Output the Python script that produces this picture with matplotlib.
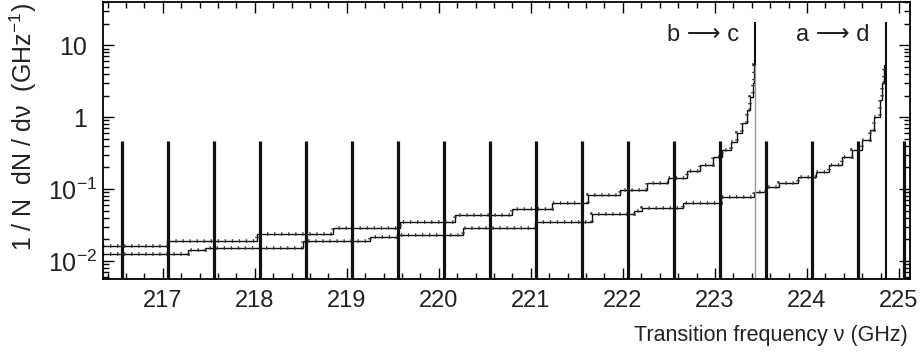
import numpy as np
import matplotlib
matplotlib.use('Agg')
import matplotlib.pyplot as plt
import matplotlib.transforms as mtransforms
from matplotlib.ticker import MultipleLocator, LogLocator, NullFormatter, FixedLocator

# step curve for b -> c (bin edges in GHz, bin contents)
bc_edges = [216.35, 217.05, 218.02, 218.85, 219.58, 220.17, 220.79, 221.23, 221.62,
            221.97, 222.26, 222.49, 222.70, 222.84, 222.98, 223.08, 223.18, 223.24,
            223.29, 223.35, 223.38, 223.41, 223.42, 223.435]
bc_values = [0.0163, 0.0190, 0.0237, 0.0290, 0.0352, 0.0435, 0.0527, 0.0645, 0.0826,
             0.0968, 0.120, 0.144, 0.180, 0.215, 0.281, 0.348, 0.454, 0.600, 0.826,
             1.25, 1.91, 2.96, 5.27]
bc_end = 223.435
bc_peak = 20.8

# step curve for a -> d
ad_edges = [216.35, 217.27, 217.46, 218.52, 219.25, 219.54, 220.26, 221.04, 221.66,
            222.12, 222.21, 222.65, 223.07, 223.42, 223.56, 223.70, 223.90, 224.10,
            224.24, 224.38, 224.49, 224.60, 224.68, 224.73, 224.79, 224.82, 224.84,
            224.855]
ad_values = [0.0125, 0.0142, 0.0150, 0.0192, 0.0212, 0.0230, 0.0290, 0.0352, 0.0443,
             0.0487, 0.0536, 0.0640, 0.0775, 0.0922, 0.108, 0.122, 0.148, 0.174,
             0.215, 0.281, 0.348, 0.480, 0.659, 1.01, 1.72, 2.96, 5.27]
ad_end = 224.855
ad_peak = 20.8

# thick marker lines every 0.5 GHz
marker_freqs = [216.56, 217.06, 217.56, 218.06, 218.56, 219.06, 219.56, 220.06, 220.56,
                221.06, 221.56, 222.06, 222.56, 223.06, 223.56, 224.06, 224.56, 225.06]
marker_top = 0.47

x_ticks = [217, 218, 219, 220, 221, 222, 223, 224, 225]
y_ticks = [0.01, 0.1, 1, 10]
y_ticklabels = ['$10^{-2}$', '$10^{-1}$', '1', '10']

xmin, xmax = 216.35, 225.12
ymin, ymax = 0.0056, 40

plt.rcParams['font.family'] = ['Liberation Sans', 'DejaVu Sans']
plt.rcParams['mathtext.fontset'] = 'custom'
plt.rcParams['mathtext.rm'] = 'Liberation Sans'
plt.rcParams['mathtext.it'] = 'Liberation Sans'
plt.rcParams['mathtext.default'] = 'regular'

fig = plt.figure(figsize=(9.21, 3.61), dpi=100)
ax = fig.add_axes([103 / 921, 1 - 279 / 361, (910 - 103) / 921, (279 - 2) / 361])
ax.set_yscale('log')
ax.set_xlim(xmin, xmax)
ax.set_ylim(ymin, ymax)

ax.vlines(marker_freqs, ymin, marker_top, color='#111111', lw=2.3)

for edges, vals in [(bc_edges, bc_values), (ad_edges, ad_values)]:
    ax.stairs(vals, edges, baseline=None, color='#111111', lw=1.0)
    ax.stairs(vals, edges, baseline=None, color='#333333', lw=2.6,
              linestyle=(0, (0.35, 1.6)))
ax.vlines([bc_end], ymin, bc_values[-1], color='#999999', lw=1.0)
ax.vlines([bc_end, ad_end], [bc_values[-1], ymin], [bc_peak, ad_peak], color='#111111', lw=1.5)

ax.text(222.87, 13.8, 'b \u27f6 c', ha='center', va='center', fontsize=17, color='#222222')
ax.text(224.28, 13.8, 'a \u27f6 d', ha='center', va='center', fontsize=17, color='#222222')

ax.xaxis.set_major_locator(FixedLocator(x_ticks))
ax.xaxis.set_minor_locator(MultipleLocator(0.2))
ax.yaxis.set_major_locator(FixedLocator(y_ticks))
ax.set_yticklabels(y_ticklabels)
ax.yaxis.set_minor_locator(LogLocator(base=10, subs=np.arange(2, 10)))
ax.yaxis.set_minor_formatter(NullFormatter())

ax.tick_params(which='both', direction='in', top=True, right=True,
               labelcolor='#222222', width=1.0)
ax.tick_params(axis='x', labelsize=17, pad=8)
ax.tick_params(axis='y', labelsize=18, pad=4)
ax.tick_params(which='major', length=8)
ax.tick_params(which='minor', length=4)
for s in ax.spines.values():
    s.set_linewidth(1.3)

# plain labels sit further from the axis than the power labels
shift = mtransforms.ScaledTranslation(-10 / 100, 0, fig.dpi_scale_trans)
for lab in ax.get_yticklabels():
    if '^' not in lab.get_text():
        lab.set_transform(lab.get_transform() + shift)

fig.text(23 / 921, 1 - 127 / 361, '1 / N  dN / d\u03bd  (GHz$^{-1}$)', rotation=90,
         ha='center', va='center', fontsize=18, color='#222222')
fig.text(908 / 921, 1 - 335 / 361, 'Transition frequency \u03bd (GHz)',
         ha='right', va='center', fontsize=15.5, color='#222222')

fig.savefig('out.png', dpi=100)
